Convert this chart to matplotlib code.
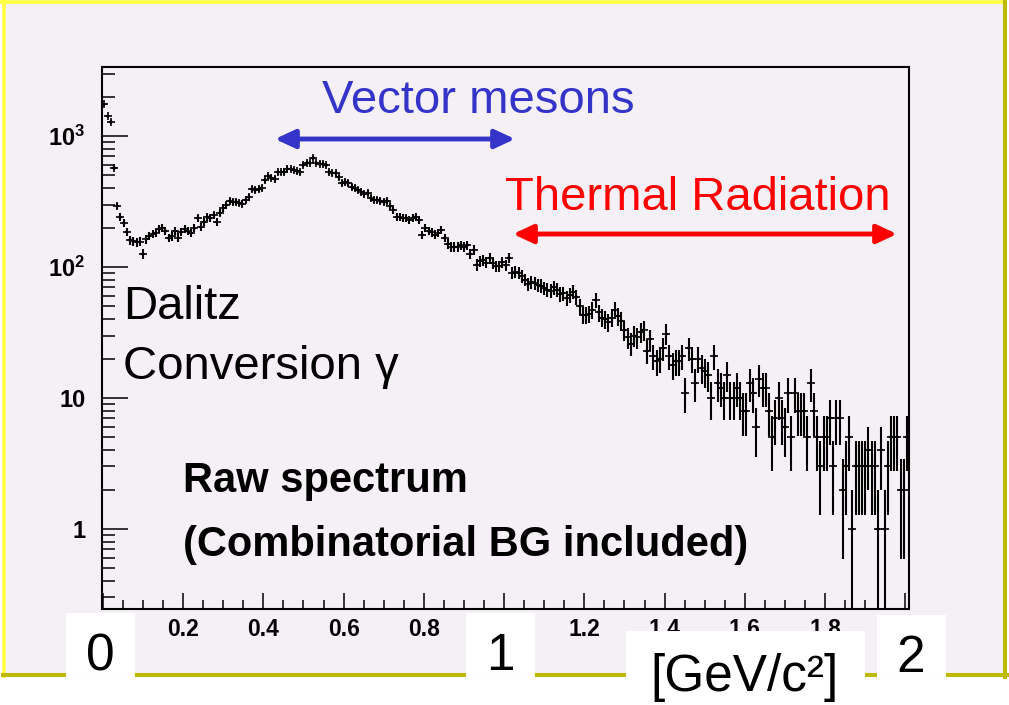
import numpy as np
import matplotlib as mpl
mpl.use('Agg')
import matplotlib.pyplot as plt
from matplotlib.patches import Rectangle, FancyArrowPatch
from matplotlib.lines import Line2D
from matplotlib.ticker import LogLocator, NullFormatter, MultipleLocator

plt.rcParams['font.family'] = ['Liberation Sans', 'DejaVu Sans']
plt.rcParams['mathtext.fontset'] = 'custom'
plt.rcParams['mathtext.rm'] = 'Liberation Sans'
plt.rcParams['mathtext.bf'] = 'Liberation Sans:bold'

W, H = 1009, 705

# raw e+e- mass spectrum, counts per 8 MeV bin starting at 0
bin_width = 0.008
counts = [
    1750, 1420, 1280, 570, 292, 241, 217, 185, 161, 158,
    155, 156, 126, 163, 173, 179, 182, 195, 200, 190,
    167, 172, 190, 168, 186, 196, 188, 183, 200, 235,
    202, 222, 240, 236, 249, 221, 260, 282, 297, 318,
    313, 313, 310, 305, 325, 345, 394, 385, 396, 401,
    460, 495, 480, 470, 531, 528, 531, 565, 560, 550,
    540, 531, 600, 625, 622, 680, 622, 615, 610, 601,
    530, 522, 520, 486, 438, 445, 438, 408, 401, 390,
    374, 360, 367, 335, 325, 325, 318, 313, 319, 290,
    272, 241, 241, 238, 235, 230, 237, 241, 228, 176,
    198, 188, 184, 177, 182, 192, 167, 150, 142, 142,
    143, 147, 142, 147, 126, 135, 104, 111, 113, 108,
    117, 107, 101, 102, 109, 103, 118, 90, 92, 90,
    85, 80, 74, 77, 75, 73, 72, 69, 67, 66,
    70, 67, 62, 63, 58, 61, 65, 59, 50, 43,
    43, 44, 47, 56, 45, 41, 40, 38, 41, 47,
    42, 39, 33, 29, 26, 30, 29, 32, 33, 23,
    28, 21, 19, 20, 24, 31, 21, 18, 19, 19,
    21, 11, 24, 20, 13, 20, 17, 16, 15, 10,
    21, 13, 12, 10, 15, 10, 10, 12, 10, 8,
    8, 13, 11, 6, 14, 12, 12, 8, 5, 7,
    10, 7, 6, 11, 5, 11, 8, 8, 8, 5,
    13, 8, 5, 3, 5, 5, 7, 3, 7, 7,
    2, 3, 5, 1, 3, 3, 3, 3, 4, 3,
    3, 1, 4, 1, 3, 5, 5, 5, 2, 2, 5,
]

# 0, 1 and 2 sit under the big white boxes on the slide
xtick_vals = [0, 0.2, 0.4, 0.6, 0.8, 1.0, 1.2, 1.4, 1.6, 1.8, 2.0]
xtick_labels = ['', '0.2', '0.4', '0.6', '0.8', '', '1.2', '1.4', '1.6', '1.8', '']
ytick_vals = [1, 10, 100, 1000]
ytick_labels = ['1', '10', r'$\mathbf{10^{2}}$', r'$\mathbf{10^{3}}$']

BG = '#f5f0f5'
BLUE = '#3434c8'
RED = '#ff0000'


def fx(px):
    return px / W


def fy(py):
    return 1 - py / H


fig = plt.figure(figsize=(W / 100, H / 100), dpi=100, facecolor='white')

# slide background and frame
fig.add_artist(Rectangle((fx(3), fy(675)), fx(1004) - fx(3), fy(2) - fy(675),
                         transform=fig.transFigure, facecolor=BG, edgecolor='none', zorder=-10))
fig.add_artist(Line2D([fx(0), fx(1005)], [fy(1.5), fy(1.5)], transform=fig.transFigure,
                      color='#ffff40', lw=2.6, zorder=-9))
fig.add_artist(Line2D([fx(3.5), fx(3.5)], [fy(0), fy(676)], transform=fig.transFigure,
                      color='#ffff40', lw=2.6, zorder=-9))
fig.add_artist(Line2D([fx(3), fx(1007)], [fy(675), fy(675)], transform=fig.transFigure,
                      color='#bdb800', lw=2.9, zorder=-9))
fig.add_artist(Line2D([fx(1005), fx(1005)], [fy(0), fy(677)], transform=fig.transFigure,
                      color='#bdb800', lw=2.9, zorder=-9))

ax = fig.add_axes([fx(102), fy(609), fx(909) - fx(102), fy(67) - fy(609)])
ax.set_facecolor('none')

y = np.array(counts, dtype=float)
x = bin_width * (np.arange(len(y)) + 0.5)
err = np.sqrt(y)
lower = np.minimum(err, y - 1e-3)
ax.errorbar(x, y, xerr=bin_width / 2, yerr=[lower, err], fmt='+', color='black',
            markersize=5.5, markeredgewidth=1.2,
            ecolor='black', elinewidth=1.5, capsize=0)

ax.set_yscale('log')
ax.set_xlim(-0.002, 2.009)
ax.set_ylim(0.245, 3365)
ax.set_yticks(ytick_vals, ytick_labels)
ax.yaxis.set_minor_locator(LogLocator(base=10, subs=np.arange(2, 10)))
ax.yaxis.set_minor_formatter(NullFormatter())
ax.set_xticks(xtick_vals, xtick_labels)
ax.xaxis.set_minor_locator(MultipleLocator(0.05))

ax.tick_params(axis='y', which='major', direction='in', length=18.5, width=1.1, pad=12, labelsize=17)
ax.tick_params(axis='y', which='minor', direction='in', length=9.5, width=1.1)
ax.tick_params(axis='x', which='major', direction='in', length=11.5, width=1.1, pad=6.5, labelsize=16.5)
ax.tick_params(axis='x', which='minor', direction='in', length=6.5, width=1.1)
for lbl in ax.get_xticklabels() + ax.get_yticklabels():
    lbl.set_fontweight('bold')
for sp in ax.spines.values():
    sp.set_linewidth(1.5)

# annotations
fig.text(fx(478), fy(101), 'Vector mesons', color=BLUE, fontsize=34, ha='center', va='center')
fig.add_artist(FancyArrowPatch((fx(275), fy(139)), (fx(515), fy(139)), transform=fig.transFigure,
                               arrowstyle='<|-|>,head_length=0.6,head_width=0.28', mutation_scale=20,
                               lw=3.5, color=BLUE, shrinkA=0, shrinkB=0, zorder=4))
fig.text(fx(698), fy(198), 'Thermal Radiation', color=RED, fontsize=34, ha='center', va='center')
fig.add_artist(FancyArrowPatch((fx(513), fy(234)), (fx(897), fy(234)), transform=fig.transFigure,
                               arrowstyle='<|-|>,head_length=0.6,head_width=0.28', mutation_scale=20,
                               lw=3.5, color=RED, shrinkA=0, shrinkB=0, zorder=4))
fig.text(fx(123), fy(307), 'Dalitz', fontsize=34, ha='left', va='center')
fig.text(fx(123), fy(367), 'Conversion γ', fontsize=34, ha='left', va='center')
fig.text(fx(183), fy(481), 'Raw spectrum', fontsize=30, fontweight='bold', ha='left', va='center')
fig.text(fx(183), fy(545), '(Combinatorial BG included)', fontsize=30, fontweight='bold',
         ha='left', va='center')

# white label boxes along the bottom
boxes = [(66, 613, 135, 677, '0', 100, 657),
         (466, 613, 535, 677, '1', 500, 657),
         (626, 631, 865, 705, '[GeV/c²]', 745, 678),
         (877, 615, 946, 677, '2', 911, 659)]
for x0, y0, x1, y1, txt, tx, ty in boxes:
    fig.add_artist(Rectangle((fx(x0), fy(y1)), fx(x1) - fx(x0), fy(y0) - fy(y1),
                             transform=fig.transFigure, facecolor='white', edgecolor='none', zorder=5))
    fig.text(fx(tx), fy(ty), txt, fontsize=37, ha='center', va='center', zorder=6)

fig.savefig('out.png', dpi=100, facecolor='white')
